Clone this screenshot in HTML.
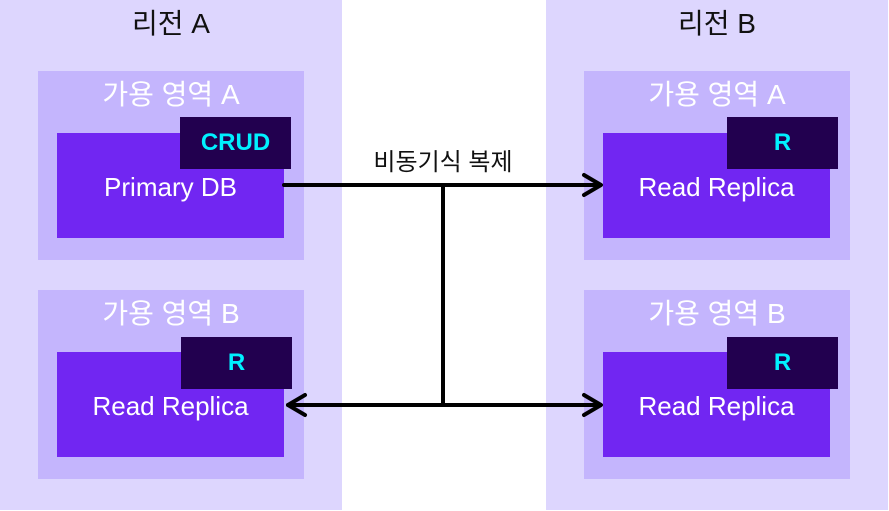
<!DOCTYPE html>
<html><head><meta charset="utf-8"><style>
body{margin:0;width:889px;height:511px;background:#fff;position:relative;overflow:hidden;font-family:"Liberation Sans","Noto Sans CJK KR",sans-serif}
div{position:absolute;box-sizing:border-box}
.reg{background:#ddd6fe;top:0;height:510px;width:342px}
.az{background:#c4b5fd;width:266px;height:189px}
.db{background:#7126f2;width:227px;height:105px;color:#fff;font-size:26px;text-align:center;line-height:108px}
.bd{background:#22004f;width:111px;height:52px;color:#00f0ff;font-weight:bold;font-size:24px;text-align:center;line-height:52px}
.t{font-size:28px;text-align:center;line-height:34px}
</style></head><body>
<div class="reg" style="left:0"></div>
<div class="reg" style="left:546px"></div>
<div class="t" style="left:0;width:342px;top:7px;color:#111">리전 A</div>
<div class="t" style="left:546px;width:342px;top:7px;color:#111">리전 B</div>

<div class="az" style="left:38px;top:71px"></div>
<div class="az" style="left:38px;top:290px"></div>
<div class="az" style="left:584px;top:71px"></div>
<div class="az" style="left:584px;top:290px"></div>
<div class="t" style="left:38px;width:266px;top:78px;color:#fff">가용 영역 A</div>
<div class="t" style="left:38px;width:266px;top:297px;color:#fff">가용 영역 B</div>
<div class="t" style="left:584px;width:266px;top:78px;color:#fff">가용 영역 A</div>
<div class="t" style="left:584px;width:266px;top:297px;color:#fff">가용 영역 B</div>

<div class="db" style="left:57px;top:133px">Primary DB</div>
<div class="db" style="left:57px;top:352px">Read Replica</div>
<div class="db" style="left:603px;top:133px">Read Replica</div>
<div class="db" style="left:603px;top:352px">Read Replica</div>

<div class="bd" style="left:180px;top:117px">CRUD</div>
<div class="bd" style="left:181px;top:337px">R</div>
<div class="bd" style="left:727px;top:117px">R</div>
<div class="bd" style="left:727px;top:337px">R</div>

<div style="left:330px;width:226px;top:148px;text-align:center;font-size:24px;line-height:30px;color:#111">비동기식 복제</div>

<svg width="889" height="511" style="position:absolute;left:0;top:0" fill="none" stroke="#000" stroke-width="4" stroke-linecap="round" stroke-linejoin="round">
<path d="M284 185H600M443 185V405M288 405H600"/>
<path d="M584 175L601 185L584 195M584 395L601 405L584 415M305 395L288 405L305 415"/>
</svg>
</body></html>
